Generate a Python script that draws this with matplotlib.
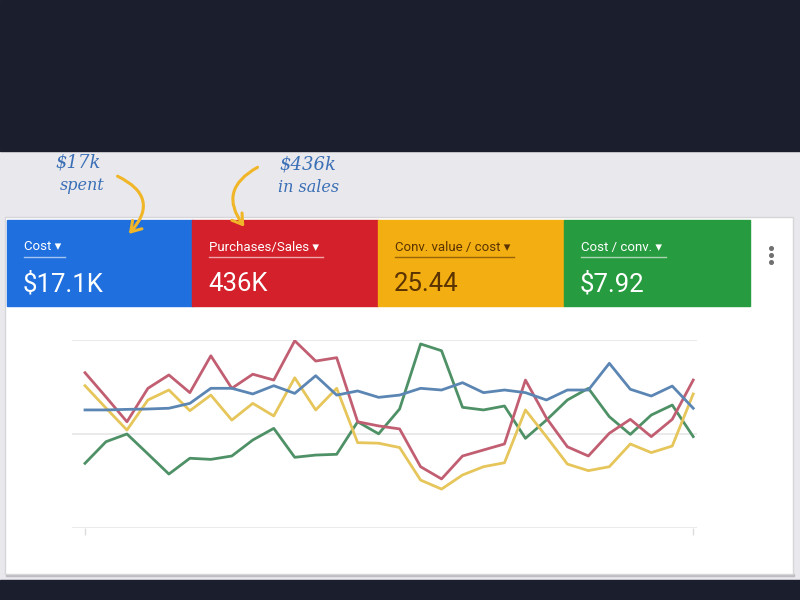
import matplotlib
matplotlib.use('Agg')
import matplotlib.pyplot as plt
from matplotlib.patches import Rectangle, FancyArrowPatch

plt.rcParams['font.family'] = ['Roboto', 'DejaVu Sans']

# Плитки с показателями
tile_labels = ['Cost', 'Purchases/Sales', 'Conv. value / cost', 'Cost / conv.']
tile_values = ['$17.1K', '436K', '25.44', '$7.92']

# Ряды графика (нормированные значения, 0..100)
cost = [62.8, 62.8, 63.1, 63.3, 63.7, 66.3, 74.3, 74.3, 71.3, 75.7,
        71.6, 81.0, 70.7, 72.9, 69.5, 70.7, 74.3, 73.4, 77.3, 72.0,
        73.4, 72.0, 68.1, 73.4, 73.4, 87.6, 73.8, 70.2, 75.5, 63.7]
purchases = [82.6, 69.7, 56.5, 74.3, 81.4, 72.0, 91.6, 74.3, 81.8, 78.7,
             99.6, 88.8, 90.6, 56.5, 54.3, 52.7, 32.6, 26.1, 38.3, 41.5,
             44.7, 78.7, 58.5, 43.2, 38.3, 50.4, 57.8, 48.6, 57.8, 78.7]
conv_value_cost = [75.7, 63.8, 52.1, 68.1, 73.4, 62.4, 70.7, 57.4, 66.3, 59.6,
                   79.9, 62.8, 74.3, 45.4, 45.1, 42.8, 25.5, 20.7, 28.2, 32.6,
                   34.7, 62.8, 48.6, 34.0, 30.5, 32.6, 44.7, 40.1, 43.6, 71.3]
cost_per_conv = [34.4, 45.9, 50.0, 39.4, 28.7, 37.1, 36.5, 38.3, 46.8, 53.0,
                 37.6, 38.8, 39.2, 56.5, 50.1, 63.3, 97.9, 94.3, 64.2, 62.8,
                 64.9, 47.7, 57.4, 68.1, 74.3, 59.2, 49.8, 60.1, 65.4, 48.6]

days = list(range(len(cost)))

fig = plt.figure(figsize=(8, 6), dpi=100)
bg = fig.add_axes([0, 0, 1, 1])
bg.set_xlim(0, 800)
bg.set_ylim(600, 0)
bg.axis('off')

# Фон
bg.add_patch(Rectangle((0, 0), 800, 600, color='#e9e8ec', zorder=0))
bg.add_patch(Rectangle((0, 0), 800, 151, color='#1b1e2c', zorder=1))
bg.add_patch(Rectangle((0, 580), 800, 20, color='#1b1e2c', zorder=1))
# Карточка
bg.add_patch(Rectangle((6, 574), 788, 2, color='#bdbdc2', zorder=1))
bg.add_patch(Rectangle((5, 217), 788, 357, facecolor='white', edgecolor='#d6d6da', lw=1, zorder=2))

# Плитки
tile_colors = ['#1f6fde', '#d3202a', '#f3ae12', '#279b3f']
text_colors = ['white', 'white', '#5a3300', 'white']
tile_x = [7, 192, 378, 564]
tile_w = 186
renderer = fig.canvas.get_renderer()
for i in range(4):
    bg.add_patch(Rectangle((tile_x[i], 220), tile_w, 86, color=tile_colors[i], zorder=3))
    t = bg.text(tile_x[i] + 17, 247, tile_labels[i] + ' ▾', color=text_colors[i],
                fontsize=9.5, va='center', ha='left', zorder=4)
    bb = t.get_window_extent(renderer=renderer)
    w = bb.width * 800 / fig.bbox.width
    bg.plot([tile_x[i] + 17, tile_x[i] + 17 + w + 4], [257, 257], color=text_colors[i],
            alpha=0.6, lw=1, zorder=4)
    bg.text(tile_x[i] + 16, 284, tile_values[i], color=text_colors[i],
            fontsize=18.5, va='center', ha='left', zorder=4)

# Меню
bg.plot([771, 771, 771], [248, 255, 262], 'o', color='#707070', ms=2.6, zorder=4)

# Рукописные пометки
note_color = '#3a6fb6'
bg.text(78, 162, '$17k', color=note_color, fontsize=13, style='italic', ha='center', va='center',
        family='DejaVu Serif', zorder=5)
bg.text(82, 185, 'spent', color=note_color, fontsize=11.5, style='italic', ha='center', va='center',
        family='DejaVu Serif', zorder=5)
bg.text(308, 164, '$436k', color=note_color, fontsize=13, style='italic', ha='center', va='center',
        family='DejaVu Serif', zorder=5)
bg.text(309, 187, 'in sales', color=note_color, fontsize=11.5, style='italic', ha='center', va='center',
        family='DejaVu Serif', zorder=5)

arrow_color = '#f0b628'
bg.add_patch(FancyArrowPatch((115, 175), (127, 236), connectionstyle='arc3,rad=-0.7',
                             arrowstyle='->,head_length=7,head_width=4.5', color=arrow_color,
                             lw=2.2, zorder=5))
bg.add_patch(FancyArrowPatch((260, 166), (246, 229), connectionstyle='arc3,rad=0.6',
                             arrowstyle='->,head_length=7,head_width=4.5', color=arrow_color,
                             lw=2.2, zorder=5))

# График
ax = fig.add_axes([72 / 800, 1 - 528 / 600, 625 / 800, 188 / 600])
ax.patch.set_alpha(0)
ax.set_xlim(-0.62, 29.18)
ax.set_ylim(0, 100)
for s in ax.spines.values():
    s.set_visible(False)
ax.set_yticks([])
ax.set_xticks([0, 29])
ax.set_xticklabels(['', ''])
ax.tick_params(axis='x', length=5, color='#dcdcdc', width=1)
for g in [0, 50, 100]:
    ax.axhline(g, color='#e6e6e8', lw=1.2, zorder=0)

ax.plot(days, cost_per_conv, color='#4f9166', lw=2, zorder=2)
ax.plot(days, conv_value_cost, color='#e6c65a', lw=2, zorder=3)
ax.plot(days, purchases, color='#c25e72', lw=2, zorder=4)
ax.plot(days, cost, color='#5b86b4', lw=2, zorder=5)

fig.savefig('out.png', dpi=100)
